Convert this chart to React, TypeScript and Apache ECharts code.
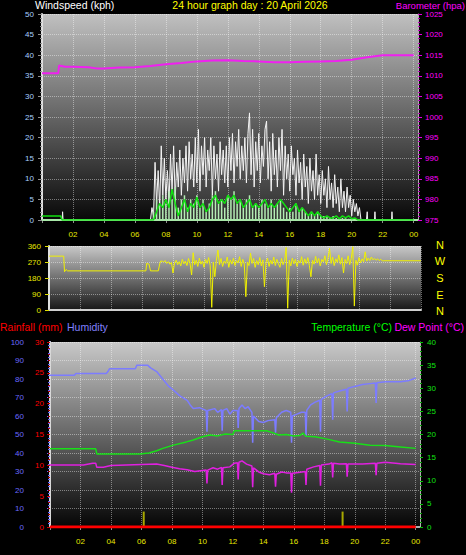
import React, { useEffect, useRef } from 'react';
import * as echarts from 'echarts';

const FONT = "'Liberation Sans', Arial, sans-serif";

// ---------- tick labels ----------
const hourLabels = ['', '02', '04', '06', '08', '10', '12', '14', '16', '18', '20', '22', '00'];
const compassLetters = ['N', 'W', 'S', 'E', 'N'];

// ---------- panel 1 : wind speed / barometer ----------
const baroData: [number, number][] = [
  [0, 1010.6], [1.05, 1010.6], [1.1, 1012.5], [1.5, 1012.2], [2, 1012.2], [3, 1012.1], [3.5, 1011.8],
  [4, 1011.8], [5, 1012.0], [6, 1012.1], [7, 1012.4], [8, 1012.8], [9, 1013.1], [10, 1013.5],
  [11, 1013.7], [12, 1013.8], [13, 1013.6], [14, 1013.5], [15, 1013.3], [16, 1013.3], [17, 1013.4],
  [18, 1013.5], [19, 1013.6], [20, 1013.9], [21, 1014.5], [22, 1015.0], [23, 1015.0], [24, 1015.0],
];

const gustStart = 7.0;
const gustStep = 0.1;
const gustValues = [
  0, 3, 1, 14, 4, 12, 3, 18, 6, 15,
  5, 12, 4, 16, 7, 18, 5, 14, 8, 17,
  6, 15, 9, 18, 7, 19, 10, 16, 8, 20,
  9, 22, 7, 18, 11, 20, 8, 17, 12, 20,
  6, 18, 10, 16, 7, 19, 11, 17, 9, 18,
  8, 20, 12, 21, 9, 19, 13, 22, 10, 18,
  12, 20, 9, 21, 26, 11, 22, 8, 19, 12,
  21, 9, 18, 13, 22, 24, 10, 19, 7, 21,
  11, 17, 8, 20, 12, 22, 6, 18, 10, 16,
  7, 18, 11, 15, 6, 17, 9, 14, 5, 16,
  8, 13, 4, 15, 7, 12, 5, 16, 6, 11,
  4, 12, 6, 10, 3, 13, 5, 9, 3, 11,
  4, 8, 2, 10, 3, 7, 2, 8, 3, 6,
  1, 5, 2, 4, 1, 3, 0,
];
const gustBefore: [number, number][] = [[0, 0], [1.3, 0], [1.33, 2], [1.36, 0], [6.95, 0]];
const gustAfter: [number, number][] = [
  [20.95, 0], [21.0, 2], [21.03, 0], [21.47, 0], [21.5, 2], [21.53, 0], [22.57, 0], [22.6, 2], [22.63, 0], [24, 0],
];

const avgStart = 7.2;
const avgStep = 0.2;
const avgValues = [
  0, 2, 4, 3, 5, 3, 7.5, 4, 1, 3,
  5, 2, 4, 3, 5.5, 3, 4, 2, 3, 5,
  6, 4, 5, 4, 6, 5, 6, 4, 5, 3,
  4, 5, 3, 4, 3, 4, 5, 3, 4, 3,
  4, 5, 4, 3, 2, 3, 4, 2, 3, 2,
  1, 2, 1, 2, 1, 0.5, 1, 0.5, 0.5, 1,
  0.3, 1, 0.5, 1, 0.3, 0.5, 0, 0,
];
const avgBefore: [number, number][] = [[0, 1], [1.2, 1], [1.3, 0], [7.0, 0]];
const avgAfter: [number, number][] = [[24, 0]];

const speedStart = 7.2;
const speedStep = 0.2;
const speedValues = [
  2, 5, 3, 6, 4, 7, 5, 8, 3, 5,
  6, 3, 5, 4, 6, 3, 5, 2, 4, 6,
  7, 4, 5, 3, 6, 5, 7, 4, 5, 3,
  5, 6, 3, 4, 3, 5, 4, 3, 5, 3,
  4, 5, 3, 2, 3, 2, 4, 2, 3, 2,
  1, 2, 1, 2, 1, 1, 1, 0.5, 1, 0.5,
  0.5, 0.5, 0.5, 0.3, 0.3, 0.3, 0, 0,
];

// ---------- panel 2 : wind direction ----------
const dirBefore: [number, number][] = [
  [0, 303], [0.95, 303], [1.0, 215], [1.1, 228], [1.2, 220], [6.25, 220], [6.3, 262], [6.45, 258],
  [6.55, 220], [7.05, 220], [7.15, 262], [7.2, 275],
];
const dirStart = 7.3;
const dirStep = 0.1;
const dirValues = [
  275, 270, 278, 262, 272, 258, 268, 208, 265, 280,
  255, 272, 248, 285, 260, 275, 250, 290, 262, 197,
  322, 255, 280, 245, 292, 258, 275, 240, 285, 262,
  295, 250, 15, 270, 187, 280, 337, 255, 290, 245,
  275, 262, 298, 240, 282, 258, 292, 250, 278, 265,
  300, 245, 285, 258, 75, 270, 250, 320, 262, 290,
  240, 278, 255, 295, 248, 282, 131, 268, 292, 245,
  280, 258, 298, 250, 285, 262, 240, 290, 255, 275,
  352, 10, 280, 248, 292, 260, 285, 245, 278, 265,
  300, 252, 288, 262, 295, 250, 187, 280, 258, 302,
  265, 290, 248, 285, 270, 305, 255, 292, 347, 262,
  298, 250, 288, 268, 310, 258, 295, 208, 285, 262,
  305, 255, 290, 356, 22, 280, 252, 295, 265, 288,
  270, 327, 275, 292, 278, 298, 282, 290, 280, 288,
  278, 285, 277,
];
const dirAfter: [number, number][] = [[21.6, 277], [24, 277]];

// ---------- panel 3 : rain / humidity / temperature / dew point ----------
const humidity: [number, number][] = [
  [0, 82], [1.6, 82], [1.7, 83], [3.7, 83], [3.8, 84], [3.9, 85.5], [5.6, 85.5], [5.7, 87.5], [6.4, 87.5],
  [6.6, 86], [7.0, 84], [7.4, 80], [7.8, 76], [8.1, 74], [8.5, 71], [9.0, 68.5], [9.2, 66], [9.4, 64],
  [9.8, 64.5], [10.25, 63], [10.3, 51.5], [10.35, 63], [10.8, 64], [11.0, 62], [11.25, 63.5], [11.3, 52],
  [11.35, 63], [11.6, 64], [11.8, 61], [12.0, 63], [12.3, 63], [12.35, 53.5], [12.4, 64], [12.6, 66],
  [12.8, 64], [13.0, 65], [13.25, 62], [13.3, 45.5], [13.35, 60], [13.7, 57], [14.0, 56.5], [14.3, 57.5],
  [14.75, 58], [14.8, 51], [14.85, 59], [15.2, 62], [15.5, 63], [15.8, 62], [15.85, 45.5], [15.9, 60],
  [16.2, 61], [16.5, 62], [16.75, 62], [16.8, 49], [16.85, 63], [17.1, 66], [17.4, 67.5], [17.7, 68.5],
  [17.75, 51.5], [17.8, 69], [18.2, 71], [18.5, 72], [18.55, 58], [18.6, 72.5], [19.0, 73.5], [19.45, 74.5],
  [19.5, 62.5], [19.55, 75], [20.0, 76], [20.5, 77], [21.0, 77.5], [21.35, 77.8], [21.4, 67], [21.45, 78],
  [22.0, 78.5], [23.0, 78.5], [23.5, 79], [24, 80.5],
];
const temperature: [number, number][] = [
  [0, 16.9], [3.0, 16.9], [3.07, 15.8], [5.9, 15.8], [6.5, 16.0], [7.0, 16.5], [7.4, 17.0], [8.1, 17.7],
  [8.95, 18.4], [9.4, 18.8], [10.0, 19.5], [10.5, 19.9], [11.0, 19.7], [11.5, 20.1], [12.0, 20.0],
  [12.1, 20.8], [14.2, 20.8], [14.6, 20.4], [15.0, 19.9], [15.5, 20.0], [16.0, 19.7], [16.4, 19.8],
  [16.6, 20.3], [16.8, 19.6], [17.4, 19.5], [18.2, 19.0], [19.0, 18.4], [20.0, 18.1], [21.0, 17.7],
  [22.0, 17.6], [23.0, 17.3], [24, 17.0],
];
const dewPoint: [number, number][] = [
  [0, 13.4], [2.2, 13.4], [2.8, 13.8], [3.0, 13.8], [3.07, 12.9], [3.5, 12.9], [4.0, 13.3], [6.0, 13.5],
  [7.0, 13.6], [7.5, 13.3], [8.0, 12.9], [8.5, 12.6], [9.0, 12.4], [9.5, 12.0], [10.0, 12.2], [10.25, 12.3],
  [10.3, 9.4], [10.35, 12.3], [10.7, 12.8], [11.0, 12.5], [11.25, 12.9], [11.3, 9.1], [11.35, 12.8],
  [11.8, 13.0], [12.1, 13.8], [12.3, 13.9], [12.35, 10.3], [12.4, 14.0], [12.6, 14.3], [12.9, 13.6],
  [13.25, 13.2], [13.3, 8.6], [13.35, 12.8], [13.7, 11.9], [14.0, 11.5], [14.4, 11.3], [14.75, 11.6],
  [14.8, 8.7], [14.85, 11.4], [15.2, 11.9], [15.5, 11.7], [15.8, 11.7], [15.85, 7.4], [15.9, 11.6],
  [16.3, 11.8], [16.75, 12.0], [16.8, 9.1], [16.85, 12.5], [17.3, 13.0], [17.7, 13.3], [17.75, 8.9],
  [17.8, 13.4], [18.3, 13.6], [18.5, 13.9], [18.55, 10.7], [18.6, 13.8], [19.0, 13.6], [19.45, 13.7],
  [19.5, 10.9], [19.55, 13.6], [20.5, 13.6], [21.35, 13.8], [21.4, 11.2], [21.45, 13.8], [22.0, 14.0],
  [23.0, 13.7], [24, 13.5],
];
const rainfall: [number, number][] = [[0, 0], [24, 0]];
const markerBars: [number, number][] = [[6.15, 2.5], [19.2, 2.5]];

const seq = (start: number, step: number, vals: number[]): [number, number][] =>
  vals.map((v, i) => [Math.round((start + i * step) * 100) / 100, v]);

const hourFmt = (v: number) => {
  const i = Math.round(v / 2);
  return Math.abs(v - i * 2) < 0.01 ? hourLabels[i] ?? '' : '';
};
const plainFmt = (v: number) => String(v);

const grad = (top: string, bottom: string) =>
  new echarts.graphic.LinearGradient(0, 0, 0, 1, [
    { offset: 0, color: top },
    { offset: 1, color: bottom },
  ]);

const dotted = { show: true, lineStyle: { type: 'dotted' as const, color: 'rgba(255,255,255,0.42)', width: 1 } };

export default function App() {
  const ref = useRef<HTMLDivElement>(null);
  useEffect(() => {
    if (!ref.current) return;
    const chart = echarts.init(ref.current, undefined, { renderer: 'svg' });
    const lbl = (color: string, margin: number) => ({ color, fontSize: 8, lineHeight: 8, fontFamily: FONT, margin, formatter: plainFmt });
    const titleFont = `10.5px ${FONT}`;
    const option: any = {
      animation: false,
      backgroundColor: '#000000',
      grid: [
        { left: 42, top: 14, width: 376, height: 206, show: true, borderWidth: 0, backgroundColor: grad('#c0c0c0', '#080808') },
        { left: 49, top: 246, width: 372, height: 64, show: true, borderWidth: 0, backgroundColor: grad('#c8c8c8', '#181818') },
        { left: 50, top: 342, width: 370, height: 185, show: true, borderWidth: 0, backgroundColor: grad('#c8c8c8', '#050505') },
      ],
      xAxis: [
        {
          gridIndex: 0, type: 'value', min: 0, max: 24.28, interval: 2,
          axisLine: { show: true, lineStyle: { color: '#c8c8c8', width: 2 } },
          axisTick: { show: true, length: 3, lineStyle: { color: '#909090' } },
          axisLabel: { ...lbl('#e8e800', 10), formatter: hourFmt, showMaxLabel: false },
          splitLine: dotted,
        },
        {
          gridIndex: 1, type: 'value', min: 0, max: 24, interval: 2,
          axisLine: { show: true, lineStyle: { color: '#d0d0d0', width: 2 } },
          axisTick: { show: false }, axisLabel: { show: false },
          splitLine: dotted,
        },
        {
          gridIndex: 2, type: 'value', min: 0, max: 24.28, interval: 2,
          axisLine: { show: true, lineStyle: { color: '#b0b0b0', width: 2 } },
          axisTick: { show: true, length: 3, lineStyle: { color: '#909090' } },
          axisLabel: { ...lbl('#e8e800', 10), formatter: hourFmt, showMaxLabel: false },
          splitLine: dotted,
        },
      ],
      yAxis: [
        {
          gridIndex: 0, type: 'value', min: 0, max: 50, interval: 5, position: 'left',
          axisLine: { show: true, lineStyle: { color: '#e0e0e0', width: 2 } },
          axisTick: { show: true, length: 4, lineStyle: { color: '#909090' } },
          minorTick: { show: true, splitNumber: 5, length: 2, lineStyle: { color: '#909090' } },
          axisLabel: lbl('#a8d0ff', 8),
          splitLine: dotted,
        },
        {
          gridIndex: 0, type: 'value', min: 975, max: 1025, interval: 5, position: 'right',
          axisLine: { show: true, lineStyle: { color: '#b0b0b0', width: 1 } },
          axisTick: { show: true, length: 4, lineStyle: { color: '#e000e0' } },
          minorTick: { show: true, splitNumber: 5, length: 2, lineStyle: { color: '#c000c0' } },
          axisLabel: lbl('#ff00ff', 7),
          splitLine: { show: false },
        },
        {
          gridIndex: 1, type: 'value', min: 0, max: 360, interval: 90, position: 'left',
          axisLine: { show: true, lineStyle: { color: '#e0e0e0', width: 2 } },
          axisTick: { show: true, length: 4, lineStyle: { color: '#e0e000' } },
          axisLabel: lbl('#e8e800', 8),
          splitLine: dotted,
        },
        {
          gridIndex: 2, type: 'value', min: 0, max: 100, interval: 10, position: 'left', offset: 20,
          axisLine: { show: true, lineStyle: { color: '#6464ff', width: 2 } },
          axisTick: { show: true, length: 3, lineStyle: { color: '#6464ff' } },
          minorTick: { show: true, splitNumber: 5, length: 2, lineStyle: { color: '#6464ff' } },
          axisLabel: lbl('#6a6aff', 6),
          splitLine: dotted,
        },
        {
          gridIndex: 2, type: 'value', min: 0, max: 30, interval: 5, position: 'left', offset: 0,
          axisLine: { show: true, lineStyle: { color: '#d8d8d8', width: 2 } },
          axisTick: { show: true, length: 3, lineStyle: { color: '#d00000' } },
          minorTick: { show: true, splitNumber: 5, length: 2, lineStyle: { color: '#b00000' } },
          axisLabel: lbl('#ff0000', 6),
          splitLine: { show: false },
        },
        {
          gridIndex: 2, type: 'value', min: 0, max: 40, interval: 5, position: 'right',
          axisLine: { show: true, lineStyle: { color: '#b0b0b0', width: 1 } },
          axisTick: { show: true, length: 3, lineStyle: { color: '#00c000' } },
          minorTick: { show: true, splitNumber: 5, length: 2, lineStyle: { color: '#00a000' } },
          axisLabel: lbl('#10e010', 7),
          splitLine: { show: false },
        },
      ],
      series: [
        {
          name: 'gust', type: 'line', xAxisIndex: 0, yAxisIndex: 0, symbol: 'none', z: 3,
          lineStyle: { color: '#f4f4f4', width: 1 },
          areaStyle: { color: 'rgba(255,255,255,0.22)' },
          data: [...gustBefore, ...seq(gustStart, gustStep, gustValues), ...gustAfter],
        },
        {
          name: 'speed', type: 'bar', xAxisIndex: 0, yAxisIndex: 0, barWidth: 1.5, z: 4,
          itemStyle: { color: '#b4ecb4' },
          data: seq(speedStart, speedStep, speedValues),
        },
        {
          name: 'speedBase', type: 'line', xAxisIndex: 0, yAxisIndex: 0, symbol: 'none', z: 4,
          lineStyle: { color: '#a8e8a8', width: 2 },
          data: [[0, 0], [24.28, 0]],
        },
        {
          name: 'avg', type: 'line', xAxisIndex: 0, yAxisIndex: 0, symbol: 'none', z: 5,
          lineStyle: { color: '#10e010', width: 1.5 },
          data: [...avgBefore, ...seq(avgStart, avgStep, avgValues), ...avgAfter],
        },
        {
          name: 'baro', type: 'line', xAxisIndex: 0, yAxisIndex: 1, symbol: 'none', z: 5,
          lineStyle: { color: '#f020f0', width: 2 },
          data: baroData,
        },
        {
          name: 'dir', type: 'line', xAxisIndex: 1, yAxisIndex: 2, symbol: 'none', z: 5,
          lineStyle: { color: '#f0f000', width: 1 },
          data: [...dirBefore, ...seq(dirStart, dirStep, dirValues), ...dirAfter],
        },
        {
          name: 'humidity', type: 'line', xAxisIndex: 2, yAxisIndex: 3, symbol: 'none', z: 5,
          lineStyle: { color: '#7c7cff', width: 1.5 },
          data: humidity,
        },
        {
          name: 'temperature', type: 'line', xAxisIndex: 2, yAxisIndex: 5, symbol: 'none', z: 5,
          lineStyle: { color: '#18e018', width: 1.5 },
          data: temperature,
        },
        {
          name: 'dew', type: 'line', xAxisIndex: 2, yAxisIndex: 5, symbol: 'none', z: 5,
          lineStyle: { color: '#e020e0', width: 1.5 },
          data: dewPoint,
        },
        {
          name: 'rain', type: 'line', xAxisIndex: 2, yAxisIndex: 4, symbol: 'none', z: 6,
          lineStyle: { color: '#ff0000', width: 3 },
          data: rainfall,
        },
        {
          name: 'marker', type: 'bar', xAxisIndex: 2, yAxisIndex: 4, barWidth: 2, z: 5,
          itemStyle: { color: '#a8a800' },
          data: markerBars,
        },
      ],
      graphic: [
        { type: 'text', x: 35, y: 5, style: { text: 'Windspeed (kph)', fill: '#ffffff', font: titleFont, textVerticalAlign: 'middle' } },
        { type: 'text', x: 250, y: 5, style: { text: '24 hour graph day : 20 April 2026', fill: '#ffff00', font: titleFont, textAlign: 'center', textVerticalAlign: 'middle' } },
        { type: 'text', x: 465, y: 5, style: { text: 'Barometer (hpa)', fill: '#ff00ff', font: `9.5px ${FONT}`, textAlign: 'right', textVerticalAlign: 'middle' } },
        { type: 'text', x: 0, y: 327, style: { text: 'Rainfall (mm)', fill: '#ff0000', font: titleFont, textVerticalAlign: 'middle' } },
        { type: 'text', x: 67, y: 327, style: { text: 'Humidity', fill: '#8080ff', font: titleFont, textVerticalAlign: 'middle' } },
        { type: 'text', x: 392, y: 327, style: { text: 'Temperature (°C)', fill: '#00ff00', font: titleFont, textAlign: 'right', textVerticalAlign: 'middle' } },
        { type: 'text', x: 464, y: 327, style: { text: 'Dew Point (°C)', fill: '#ff00ff', font: titleFont, textAlign: 'right', textVerticalAlign: 'middle' } },
        ...compassLetters.map((t, i) => ({
          type: 'text', x: 440, y: [245, 261, 278, 295, 311][i],
          style: { text: t, fill: '#ffff00', font: `11px ${FONT}`, textAlign: 'center', textVerticalAlign: 'middle' },
        })),
      ],
    };
    chart.setOption(option);
    return () => chart.dispose();
  }, []);
  return <div ref={ref} style={{ position: 'absolute', left: 0, top: 0, width: 466, height: 555 }} />;
}
